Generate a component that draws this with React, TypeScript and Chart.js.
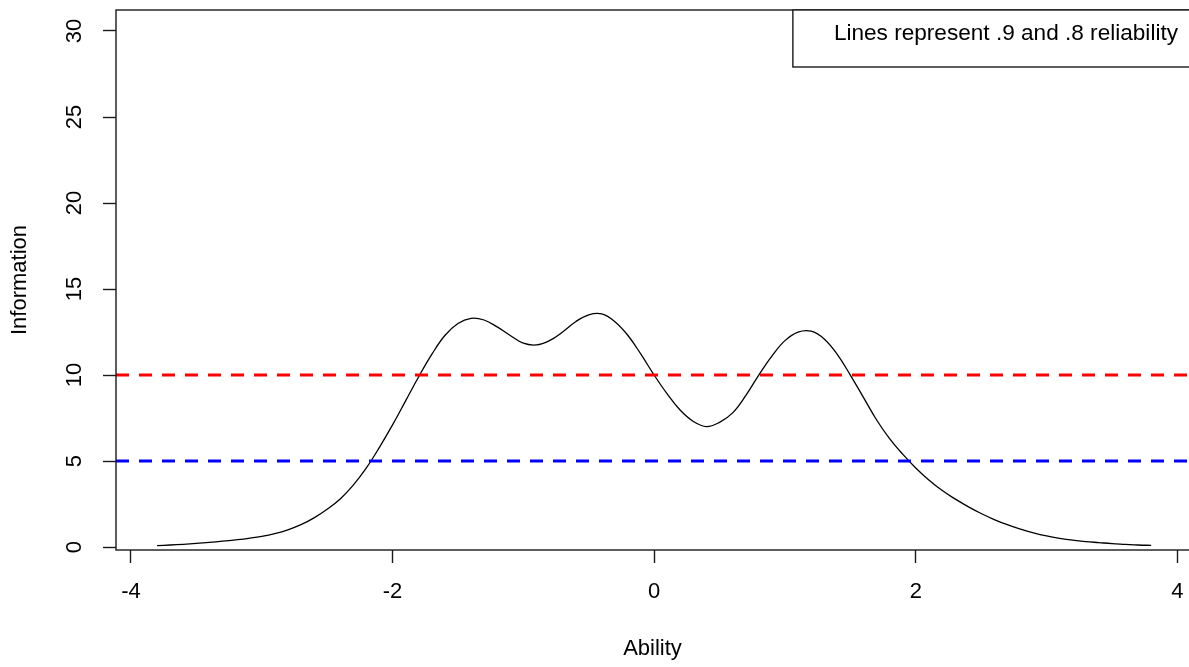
import React, { useEffect, useRef } from "react";
import { Chart, registerables } from "chart.js";

Chart.register(...registerables);

const ABILITY = [
  -3.8, -3.7, -3.6, -3.5, -3.4, -3.3, -3.2, -3.1, -3.0, -2.9, -2.8, -2.7, -2.6,
  -2.5, -2.4, -2.3, -2.2, -2.1, -2.0, -1.9, -1.8, -1.7, -1.6, -1.5, -1.4, -1.3,
  -1.2, -1.1, -1.0, -0.9, -0.8, -0.7, -0.6, -0.5, -0.4, -0.3, -0.2, -0.1, 0.0,
  0.1, 0.2, 0.3, 0.4, 0.5, 0.6, 0.7, 0.8, 0.9, 1.0, 1.1, 1.2, 1.3, 1.4, 1.5,
  1.6, 1.7, 1.8, 1.9, 2.0, 2.1, 2.2, 2.3, 2.4, 2.5, 2.6, 2.7, 2.8, 2.9, 3.0,
  3.1, 3.2, 3.3, 3.4, 3.5, 3.6, 3.7, 3.8,
];

const INFORMATION = [
  0.08, 0.12, 0.16, 0.21, 0.27, 0.34, 0.42, 0.51, 0.62, 0.78, 1.0, 1.3, 1.7,
  2.2, 2.8, 3.6, 4.6, 5.8, 7.1, 8.5, 9.9, 11.2, 12.3, 13.0, 13.3, 13.2,
  12.8, 12.3, 11.85, 11.75, 12.0, 12.5, 13.1, 13.5, 13.55, 13.1, 12.3, 11.2, 10.0,
  8.9, 7.95, 7.3, 7.0, 7.25, 7.8, 8.8, 10.0, 11.1, 12.0, 12.5, 12.55, 12.1, 11.2, 10.0,
  8.7, 7.4, 6.3, 5.4, 4.6, 3.9, 3.3, 2.8, 2.35, 1.95, 1.6, 1.3, 1.05, 0.83, 0.65,
  0.51, 0.4, 0.32, 0.26, 0.2, 0.16, 0.12, 0.1,
];

const RELIABILITY_LINES = [10, 5];
const RELIABILITY_COLORS = ["#ff0000", "#0000ff"];

const X_TICKS = [-4, -2, 0, 2, 4];
const Y_TICKS = [0, 5, 10, 15, 20, 25, 30];

const X_MIN = -4.114;
const X_MAX = 4.089;
const Y_MIN = -0.17;
const Y_MAX = 31.22;

const LEGEND_TEXT = "Lines represent .9 and .8 reliability";
const X_TITLE = "Ability";
const Y_TITLE = "Information";

const FONT = "'Liberation Sans', Arial, sans-serif";

function zeroPad(scale: any) {
  scale.paddingTop = 0;
  scale.paddingBottom = 0;
  scale.paddingLeft = 0;
  scale.paddingRight = 0;
}

export default function App() {
  const ref = useRef<HTMLCanvasElement | null>(null);

  useEffect(() => {
    document.body.style.margin = "0";
    document.body.style.overflow = "hidden";
    const canvas = ref.current;
    if (!canvas) return;

    const boxPlugin = {
      id: "rbox",
      afterDraw(chart: any) {
        const { ctx, chartArea } = chart;
        ctx.save();
        ctx.strokeStyle = "#1a1a1a";
        ctx.lineWidth = 1.4;
        ctx.strokeRect(
          chartArea.left,
          chartArea.top,
          chartArea.right - chartArea.left + 2,
          chartArea.bottom - chartArea.top
        );
        // legend box (topright)
        ctx.font = `22.6px ${FONT}`;
        const tw = ctx.measureText(LEGEND_TEXT).width;
        const right = chartArea.right + 2;
        const left = chartArea.right - 11 - tw - 41;
        const top = chartArea.top;
        const bottom = top + 57;
        ctx.fillStyle = "#ffffff";
        ctx.fillRect(left, top, right - left, bottom - top);
        ctx.strokeRect(left, top, right - left, bottom - top);
        ctx.fillStyle = "#000000";
        ctx.textBaseline = "alphabetic";
        ctx.textAlign = "left";
        ctx.fillText(LEGEND_TEXT, left + 41, top + 30);
        ctx.restore();
      },
    };

    const chart = new Chart(canvas, {
      type: "line",
      data: {
        datasets: [
          {
            label: "info",
            data: ABILITY.map((a, i) => ({ x: a, y: INFORMATION[i] })),
            borderColor: "#000000",
            borderWidth: 1.3,
            pointRadius: 0,
            tension: 0.4,
            fill: false,
            order: 2,
          },
          ...RELIABILITY_LINES.map((v, i) => ({
            label: "rel" + v,
            data: [
              { x: X_MIN, y: v },
              { x: X_MAX, y: v },
            ],
            borderColor: RELIABILITY_COLORS[i],
            borderWidth: 3,
            borderDash: [13, 10],
            pointRadius: 0,
            fill: false,
            order: 1,
          })),
        ],
      },
      options: {
        responsive: false,
        animation: false,
        devicePixelRatio: 1,
        layout: { padding: { top: 10, right: 0, left: 0, bottom: 0 } },
        plugins: {
          legend: { display: false },
          tooltip: { enabled: false },
        },
        scales: {
          x: {
            type: "linear",
            position: "bottom",
            min: X_MIN,
            max: X_MAX,
            afterBuildTicks: (scale: any) => {
              scale.ticks = X_TICKS.map((v) => ({ value: v }));
            },
            afterFit: (scale: any) => {
              scale.height = 117;
              zeroPad(scale);
            },
            grid: {
              drawOnChartArea: false,
              drawTicks: true,
              tickLength: 13,
              tickWidth: 1.4,
              tickColor: "#1a1a1a",
            },
            border: { display: false },
            ticks: {
              padding: 16,
              color: "#000000",
              font: { family: FONT, size: 22 },
              maxRotation: 0,
              minRotation: 0,
              callback: (v: any) => String(v),
            },
            title: {
              display: true,
              text: X_TITLE,
              color: "#000000",
              font: { family: FONT, size: 22 },
              padding: { top: 0, bottom: 5 },
            },
          },
          y: {
            type: "linear",
            min: Y_MIN,
            max: Y_MAX,
            afterBuildTicks: (scale: any) => {
              scale.ticks = Y_TICKS.map((v) => ({ value: v }));
            },
            afterFit: (scale: any) => {
              scale.width = 116;
              zeroPad(scale);
            },
            grid: {
              drawOnChartArea: false,
              drawTicks: true,
              tickLength: 13,
              tickWidth: 1.4,
              tickColor: "#1a1a1a",
            },
            border: { display: false },
            ticks: {
              padding: 16,
              color: "#000000",
              font: { family: FONT, size: 22 },
              minRotation: 90,
              maxRotation: 90,
              crossAlign: "center",
              callback: (v: any) => String(v),
            },
            title: {
              display: true,
              text: Y_TITLE,
              color: "#000000",
              font: { family: FONT, size: 22 },
              padding: { top: 7, bottom: 0 },
            },
          },
        },
      },
      plugins: [boxPlugin],
    });

    return () => chart.destroy();
  }, []);

  return (
    <div style={{ width: 1189, height: 667, background: "#ffffff" }}>
      <canvas ref={ref} width={1189} height={667} style={{ display: "block" }} />
    </div>
  );
}
